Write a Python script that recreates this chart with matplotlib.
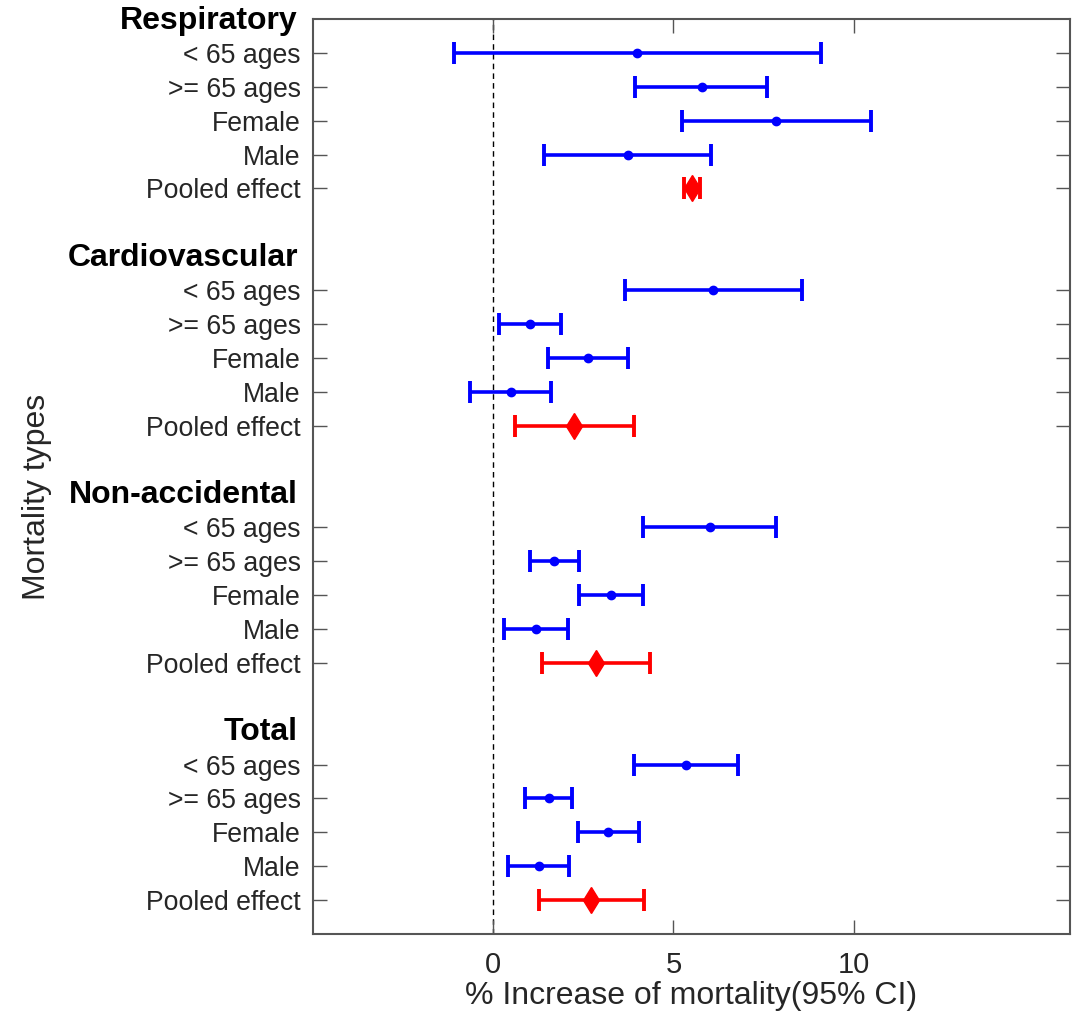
#!/usr/bin/python3

import numpy as np
import matplotlib
matplotlib.use('Agg')
import matplotlib.pyplot as plt
import matplotlib.transforms as mtransforms

plt.rcParams['font.family'] = ['Liberation Sans', 'DejaVu Sans']

### Data (% increase, 95% CI)
groups = ['Respiratory', 'Cardiovascular', 'Non-accidental', 'Total']
subgroups = ['< 65 ages', '>= 65 ages', 'Female', 'Male', 'Pooled effect']

resp_est = [3.98, 5.78, 7.85, 3.73, 5.50]
resp_lo = [-1.08, 3.94, 5.23, 1.41, 5.30]
resp_hi = [9.09, 7.60, 10.47, 6.03, 5.73]

cardio_est = [6.10, 1.03, 2.62, 0.49, 2.25]
cardio_lo = [3.66, 0.17, 1.51, -0.64, 0.60]
cardio_hi = [8.56, 1.87, 3.75, 1.61, 3.91]

nonacc_est = [6.00, 1.69, 3.27, 1.18, 2.85]
nonacc_lo = [4.16, 1.02, 2.38, 0.30, 1.34]
nonacc_hi = [7.85, 2.38, 4.16, 2.08, 4.35]

total_est = [5.34, 1.54, 3.19, 1.27, 2.71]
total_lo = [3.90, 0.89, 2.34, 0.42, 1.28]
total_hi = [6.78, 2.19, 4.05, 2.09, 4.19]

x_ticks = [0, 5, 10]

series = [
    (resp_est, resp_lo, resp_hi),
    (cardio_est, cardio_lo, cardio_hi),
    (nonacc_est, nonacc_lo, nonacc_hi),
    (total_est, total_lo, total_hi),
]

TXT = '#262626'
AXC = '#555555'

fig = plt.figure(figsize=(10.76, 10.16), dpi=100)
ax = fig.add_axes([313/1076, 1 - 934/1016, (1070-313)/1076, (934-19)/1016])

# each group takes 7 rows: header, 5 subgroups, blank
rowsPerGroup = 7
tickPos = []
tickLab = []
for g, (est, lo, hi) in enumerate(series):
    est = np.array(est); lo = np.array(lo); hi = np.array(hi)
    ypos = g * rowsPerGroup + 1 + np.arange(len(subgroups))
    xerr = np.vstack([est - lo, hi - est])
    # subgroups in blue
    ax.errorbar(est[:-1], ypos[:-1], xerr=xerr[:, :-1], fmt='o', color='blue',
                ms=6, lw=2.6, capsize=8, capthick=2.8, zorder=3)
    # pooled effect in red
    ax.errorbar(est[-1:], ypos[-1:], xerr=xerr[:, -1:], fmt='d', color='red',
                ms=13, lw=2.6, capsize=8, capthick=2.8, zorder=3)
    tickPos += list(ypos)
    tickLab += subgroups
    # bold group header left of the axis
    ax.text(-0.02, g * rowsPerGroup + 0.05, groups[g],
            transform=mtransforms.blended_transform_factory(ax.transAxes, ax.transData),
            ha='right', va='center', fontsize=23, fontweight='bold', color='black')

ax.axvline(0, color='black', lw=1.0, ls=(0, (4, 3)), zorder=1)

ax.set_xlim(-5, 16)
ax.set_ylim(rowsPerGroup * len(groups) - 1, 0)
ax.set_yticks(tickPos)
ax.set_yticklabels(tickLab, fontsize=19.2, color=TXT)
ax.set_xticks(x_ticks)
ax.set_xticklabels([str(t) for t in x_ticks], fontsize=21, color=TXT)

ax.tick_params(axis='both', direction='in', length=10, width=1.0, color=AXC,
               top=True, right=True)
ax.tick_params(axis='y', pad=9)
ax.tick_params(axis='x', pad=12)
for sp in ax.spines.values():
    sp.set_color(AXC)
    sp.set_linewidth(1.5)

ax.set_xlabel('% Increase of mortality(95% CI)', fontsize=23, color=TXT, labelpad=2)
ax.set_ylabel('Mortality types', fontsize=23, color=TXT)
ax.yaxis.set_label_coords(-0.345, 0.478)

fig.savefig('out.png', dpi=100)
plt.close(fig)
